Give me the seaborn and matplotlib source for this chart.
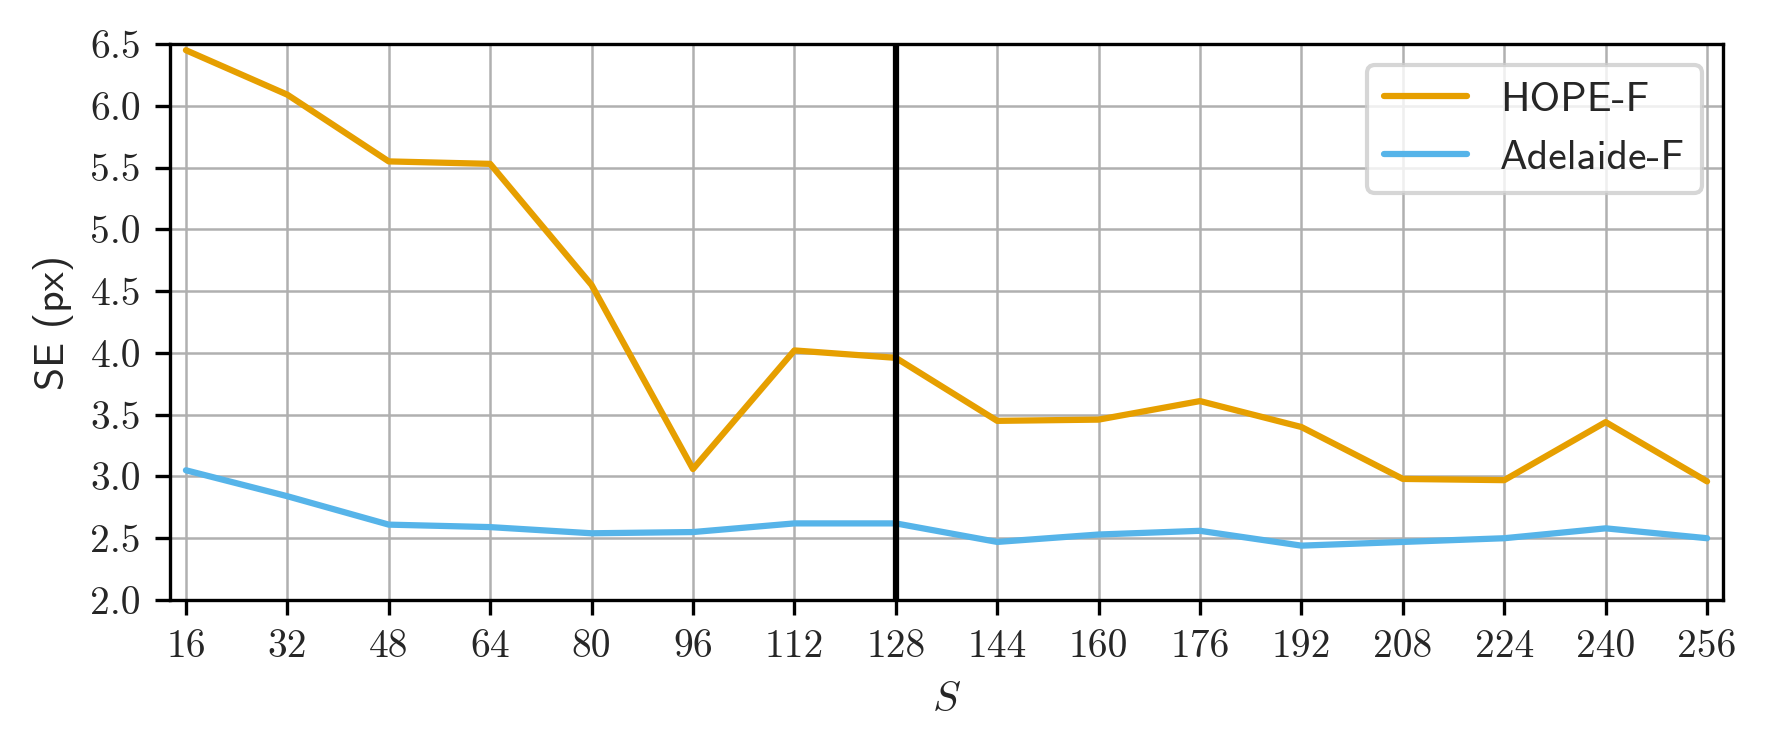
import matplotlib
matplotlib.use("Agg")
import matplotlib.pyplot as plt
import seaborn as sns
import pandas as pd

# Data
S_values = [16, 32, 48, 64, 80, 96, 112, 128, 144, 160, 176, 192, 208, 224, 240, 256]
hope_f = [6.45, 6.09, 5.55, 5.53, 4.55, 3.06, 4.02, 3.96, 3.45, 3.46, 3.61, 3.40, 2.98, 2.97, 3.44, 2.96]
adelaide_f = [3.05, 2.84, 2.61, 2.59, 2.54, 2.55, 2.62, 2.62, 2.47, 2.53, 2.56, 2.44, 2.47, 2.50, 2.58, 2.50]
series_names = ["HOPE-F", "Adelaide-F"]
series_colors = ["#E69F00", "#56B4E9"]
y_ticks = [2.0, 2.5, 3.0, 3.5, 4.0, 4.5, 5.0, 5.5, 6.0, 6.5]
marker_S = 128

sns.set_style("ticks")
plt.rcParams["font.family"] = ["cmr10", "DejaVu Sans"]
plt.rcParams["mathtext.fontset"] = "cm"
plt.rcParams["axes.unicode_minus"] = False

df = pd.DataFrame({
    "S": S_values * 2,
    "SE": hope_f + adelaide_f,
    "method": [series_names[0]] * len(S_values) + [series_names[1]] * len(S_values),
})

fig, ax = plt.subplots(figsize=(1768 / 300, 750 / 300), dpi=300)
fig.subplots_adjust(left=0.0962, right=0.9745, top=0.9413, bottom=0.2)

sns.lineplot(data=df, x="S", y="SE", hue="method", hue_order=series_names,
             palette=series_colors, linewidth=1.5, ax=ax)
ax.axvline(marker_S, color="black", linewidth=1.5, zorder=3)

ax.set_xlim(S_values[0] - 2.5, S_values[-1] + 2.5)
ax.set_ylim(y_ticks[0], y_ticks[-1])
ax.set_xticks(S_values)
ax.set_xticklabels([str(s) for s in S_values])
ax.set_yticks(y_ticks)
ax.set_yticklabels([f"{v:.1f}" for v in y_ticks])
ax.tick_params(labelsize=9.5, length=3.5, width=0.8, color="black")
for sp in ax.spines.values():
    sp.set_visible(True)
    sp.set_color("black")
    sp.set_linewidth(0.8)

ax.grid(True, color="#b0b0b0", linewidth=0.6)
ax.set_axisbelow(True)

ax.set_xlabel("$S$", fontsize=10)
ax.set_ylabel("SE (px)", fontsize=10, fontfamily="cmss10")

handles, labels = ax.get_legend_handles_labels()
leg = ax.legend(handles, labels, loc="upper right", prop={"family": "cmss10", "size": 10},
                frameon=True, fancybox=True, framealpha=0.8, edgecolor="#cccccc")

fig.savefig("out.png", dpi=300)
